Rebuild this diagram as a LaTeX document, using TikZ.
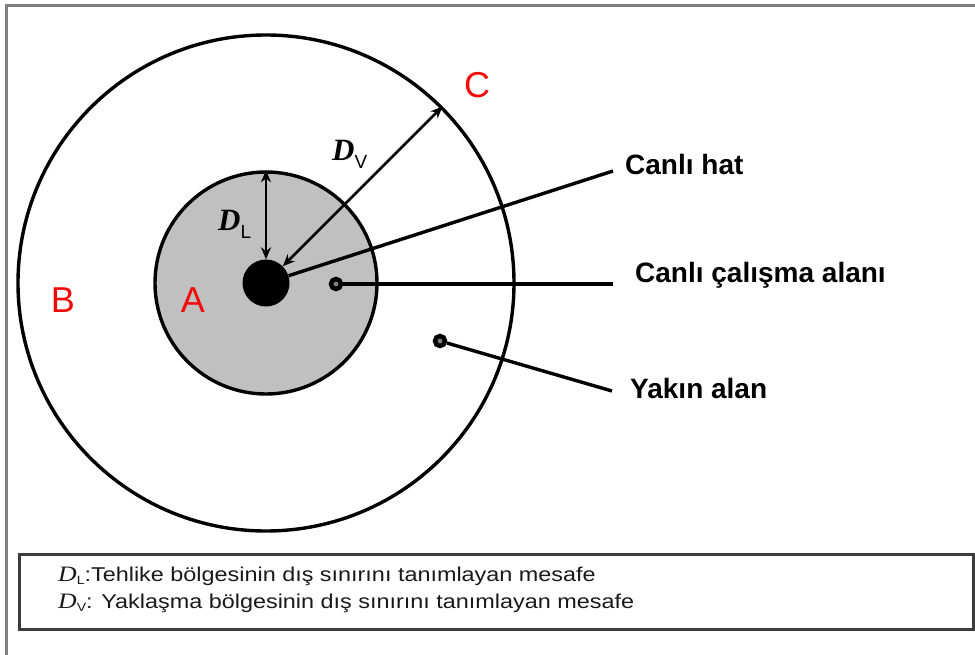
\documentclass[tikz,border=0pt]{standalone}
\usepackage{fontspec}
\setmainfont{Liberation Sans}
\newfontfamily\tnr{Liberation Serif}
\usetikzlibrary{arrows.meta}
\definecolor{zoneA}{RGB}{192,192,192}
\definecolor{framegray}{RGB}{128,128,128}
\definecolor{boxgray}{RGB}{60,60,60}
\definecolor{zonered}{RGB}{240,10,10}
\begin{document}
\begin{tikzpicture}[x=1pt,y=-1pt,
  ring/.style={circle, draw=black, line width=3.4pt, inner sep=0pt},
  bigtext/.style={font=\bfseries\fontsize{28}{32}\selectfont, anchor=base west, inner sep=0pt},
  zone/.style={text=zonered, font=\fontsize{36}{40}\selectfont, inner sep=0pt},
  conn/.style={line width=3.4pt},
  dimarrow/.style={line width=2.8pt, {Stealth[length=12pt,width=10pt]}-{Stealth[length=12pt,width=10pt]}},
  marker/.style={circle, draw=black, fill=gray, line width=4.5pt, minimum size=10pt, inner sep=0pt},
  dimlabel/.style={anchor=base west, inner sep=0pt, font=\tnr\bfseries\itshape\fontsize{31}{33}\selectfont},
  legtext/.style={anchor=base west, inner sep=0pt, text=black!90, font=\fontsize{20}{22}\selectfont}
]
\useasboundingbox (0,0) rectangle (975,655);
\draw[framegray, line width=3pt] (6,655) -- (6,6) -- (975,6);
\node[ring, minimum size=496pt] (outer) at (266,283) {};
\node[ring, fill=zoneA, minimum size=222pt] (inner) at (266,283) {};
\node[circle, fill=black, inner sep=0pt, minimum size=47pt] (wire) at (266,283) {};
\node[marker] (wdot) at (336,284) {};
\node[marker] (ndot) at (440,341) {};

\draw[dimarrow] (inner.north) -- (wire.north);
\draw[dimarrow] (outer.45) -- (wire.45);

\node[dimlabel] (dl) at (218,231) {D\raisebox{-8pt}{\normalfont\fontsize{19}{19}\selectfont L}};
\node[dimlabel] (dv) at (332,161) {D\raisebox{-8pt}{\normalfont\fontsize{19}{19}\selectfont V}};

\node[zone] (labA) at (193,300) {A};
\node[zone] (labB) at (63,300) {B};
\node[zone] (labC) at (477,85) {C};

\coordinate (hatEnd) at (613,171);
\coordinate (calEnd) at (613,284);
\coordinate (yakEnd) at (612,391);
\draw[conn] (wire) -- (hatEnd);
\draw[conn] (wdot) -- (calEnd);
\draw[conn] (ndot) -- (yakEnd);

\node[bigtext] (hat) at (625,175) {Canlı hat};
\node[bigtext] (cal) at (635,283) {Canlı çalışma alanı};
\node[bigtext] (yak) at (630,398) {Yakın alan};

\node[draw=boxgray, line width=3pt, minimum width=954pt, minimum height=75pt, inner sep=0pt, anchor=north west] (legend) at (18,553) {};
\node[legtext] (leg1) at (58,581) {\scalebox{1.17}[1]{{\tnr\itshape\fontsize{22}{22}\selectfont D}\raisebox{-3pt}{\fontsize{12}{12}\selectfont L}:Tehlike bölgesinin dış sınırını tanımlayan mesafe}};
\node[legtext] (leg2) at (58,608) {\scalebox{1.17}[1]{{\tnr\itshape\fontsize{22}{22}\selectfont D}\raisebox{-3pt}{\fontsize{12}{12}\selectfont V}: Yaklaşma bölgesinin dış sınırını tanımlayan mesafe}};
\end{tikzpicture}
\end{document}
